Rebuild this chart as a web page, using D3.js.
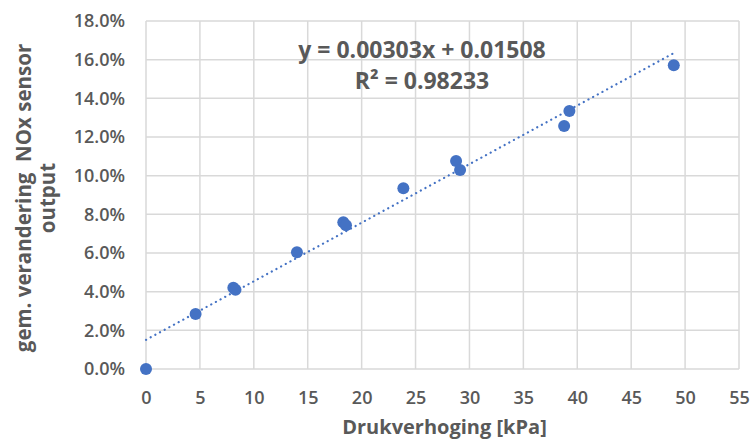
<!DOCTYPE html>
<html>
<head>
<meta charset="utf-8">
<script src="https://cdn.jsdelivr.net/npm/d3@7"></script>
<style>
  html, body { margin: 0; padding: 0; background: #fff; }
  svg text { font-family: "Open Sans", "Noto Sans", sans-serif; fill: #595959; white-space: pre; }
</style>
</head>
<body>
<svg id="chart" width="755" height="446"></svg>
<script>
// ---- data ----
const pressure = [0, 4.6, 8.1, 8.3, 14.0, 18.3, 18.55, 23.87, 28.76, 29.13, 38.78, 39.27, 48.95];
const change   = [0.0, 0.0285, 0.042, 0.041, 0.0604, 0.0759, 0.0743, 0.0935, 0.1076, 0.1029, 0.1257, 0.1335, 0.1571];
const xTicks = [0, 5, 10, 15, 20, 25, 30, 35, 40, 45, 50, 55];
const yTicks = [0, 0.02, 0.04, 0.06, 0.08, 0.10, 0.12, 0.14, 0.16, 0.18];
const trendSlope = [0.00303];
const trendIntercept = [0.01508];
const trendText = ["y = 0.00303x + 0.01508", "R² = 0.98233"];
const xTitle = "Drukverhoging [kPa]";
const yTitleLines = ["gem. verandering  NOx sensor", "output"];

// ---- layout ----
const W = 755, H = 446;
const margin = { left: 146, right: 16, top: 21, bottom: 77 };
const svg = d3.select("#chart");
const x = d3.scaleLinear().domain([0, 55]).range([margin.left, W - margin.right]);
const y = d3.scaleLinear().domain([0, 0.18]).range([H - margin.bottom, margin.top]);

const gridColor = "#d9d9d9";

// gridlines
const grid = svg.append("g");
grid.selectAll("line.v").data(xTicks).join("line")
  .attr("x1", d => x(d)).attr("x2", d => x(d))
  .attr("y1", y(0.18)).attr("y2", y(0))
  .attr("stroke", gridColor).attr("stroke-width", 1.5);
grid.selectAll("line.h").data(yTicks).join("line")
  .attr("y1", d => y(d)).attr("y2", d => y(d))
  .attr("x1", x(0)).attr("x2", x(55))
  .attr("stroke", gridColor).attr("stroke-width", 1.5);

// axes (labels only)
const xAxis = d3.axisBottom(x).tickValues(xTicks).tickSize(0).tickPadding(22).tickFormat(d3.format("d"));
const gx = svg.append("g").attr("transform", `translate(0,${y(0)})`).call(xAxis);
gx.select(".domain").remove();
gx.selectAll("text").style("font-size", "18px").style("font-weight", "600").attr("fill", "#595959");

const yAxis = d3.axisLeft(y).tickValues(yTicks).tickSize(0).tickPadding(21).tickFormat(d3.format(".1%"));
const gy = svg.append("g").attr("transform", `translate(${x(0)},0)`).call(yAxis);
gy.select(".domain").remove();
gy.selectAll("text").style("font-size", "18px").style("font-weight", "600").attr("fill", "#595959");

// trendline
const xmin = d3.min(pressure), xmax = d3.max(pressure);
const trendPts = [xmin, xmax].map(v => [v, trendIntercept[0] + trendSlope[0] * v]);
svg.append("path")
  .attr("d", d3.line().x(d => x(d[0])).y(d => y(d[1]))(trendPts))
  .attr("fill", "none")
  .attr("stroke", "#4472C4")
  .attr("stroke-width", 2.2)
  .attr("stroke-linecap", "round")
  .attr("stroke-dasharray", "0.1 5.2");

// points
const pts = pressure.map((p, i) => ({ p, c: change[i] }));
svg.append("g").selectAll("circle").data(pts).join("circle")
  .attr("cx", d => x(d.p)).attr("cy", d => y(d.c))
  .attr("r", 6)
  .attr("fill", "#4472C4");

// equation label
svg.append("text").attr("x", 422).attr("y", 58).attr("text-anchor", "middle")
  .style("font-size", "23px").style("font-weight", "700").text(trendText[0]);
svg.append("text").attr("x", 422).attr("y", 89).attr("text-anchor", "middle")
  .style("font-size", "23px").style("font-weight", "700").text(trendText[1]);

// axis titles
svg.append("text").attr("x", (x(0) + x(55)) / 2 + 2).attr("y", 434).attr("text-anchor", "middle")
  .style("font-size", "20px").style("font-weight", "700").text(xTitle);

const yt = svg.append("text").attr("transform", "translate(0,198) rotate(-90)")
  .attr("text-anchor", "middle")
  .style("font-size", "20.5px").style("font-weight", "700");
yt.append("tspan").attr("x", 0).attr("y", 31).text(yTitleLines[0]);
yt.append("tspan").attr("x", 0).attr("y", 55).text(yTitleLines[1]);
</script>
</body>
</html>
